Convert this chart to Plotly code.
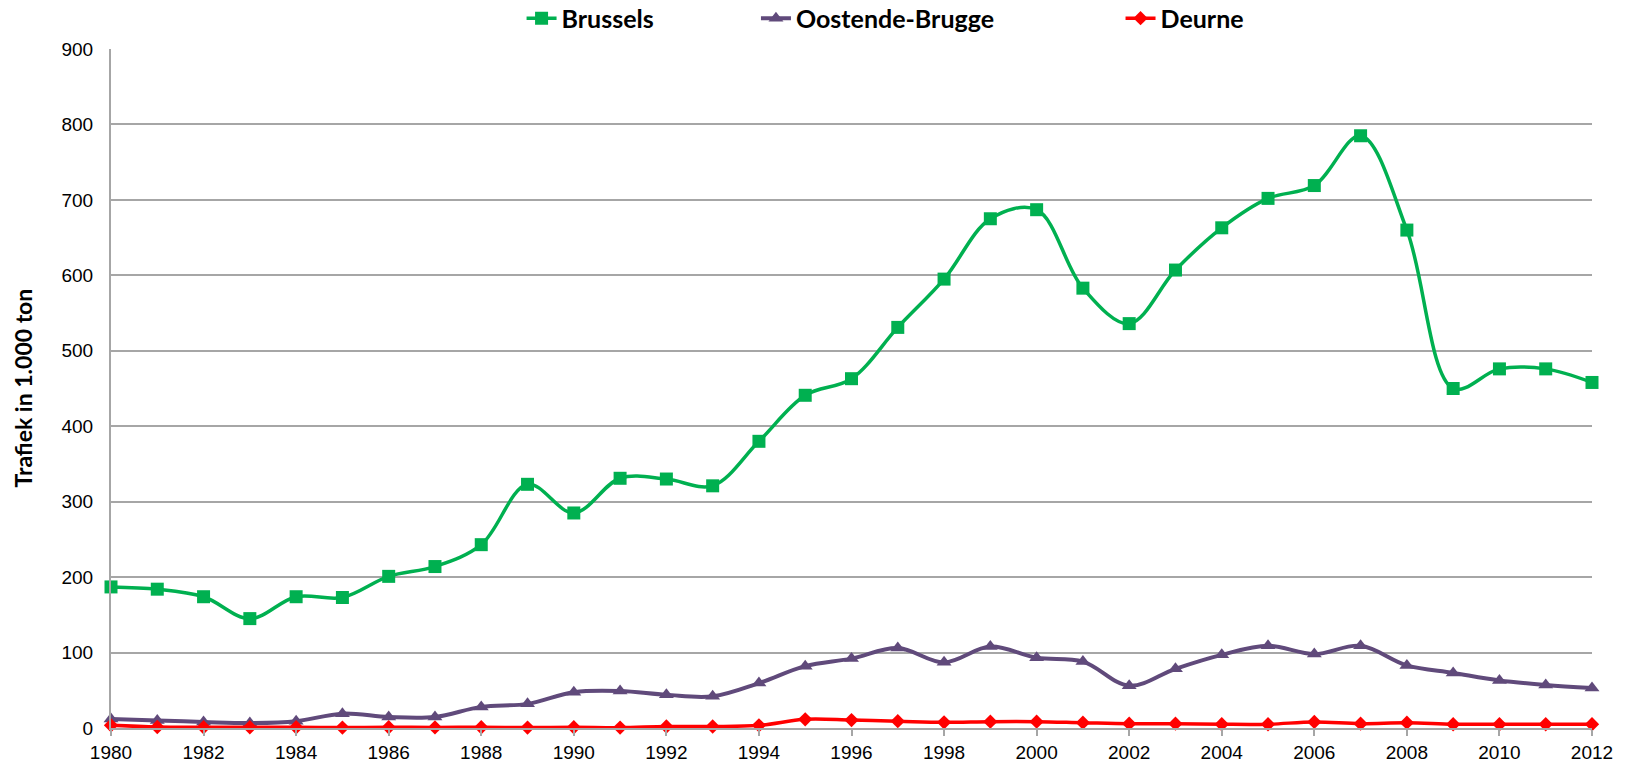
import plotly.graph_objects as go

years = list(range(1980, 2013))
brussels = [187, 184, 174, 145, 174, 173, 201, 214, 243, 323, 285, 331, 330, 321, 380, 441,
            463, 531, 595, 675, 687, 583, 536, 607, 663, 702, 719, 785, 660, 450, 476, 476, 458]
oostende = [12, 10, 8, 6.5, 9, 19, 14.5, 14.5, 28, 32, 47.5, 49, 44, 42, 59.5, 82,
            92, 106, 87, 108, 93, 88, 56, 78.5, 97, 109, 98, 109, 83, 73, 63, 57, 53]
deurne = [3.5, 1.3, 1, 1, 1, 0.5, 1, 0.8, 1, 0.5, 1, 0.5, 2, 2, 3.5, 11.5,
          10.5, 9, 7.5, 8.4, 8.4, 7, 5.7, 5.7, 5, 5, 8, 5.7, 7, 5, 5, 5, 5]
tick_years = list(range(1980, 2013, 2))
y_ticks = list(range(0, 901, 100))

NB = "\u00a0"
fig = go.Figure()
fig.add_trace(go.Scatter(x=years, y=brussels, name="Brussels" + NB * 16, mode="lines+markers",
                         line=dict(color="#00B050", width=3.5, shape="spline", smoothing=1),
                         marker=dict(symbol="square", size=13, color="#00B050"), cliponaxis=False))
fig.add_trace(go.Scatter(x=years, y=oostende, name="Oostende-Brugge" + NB * 20, mode="lines+markers",
                         line=dict(color="#604A7B", width=4, shape="spline", smoothing=1),
                         marker=dict(symbol="triangle-up", size=13, color="#604A7B"), cliponaxis=False))
fig.add_trace(go.Scatter(x=years, y=deurne, name="Deurne", mode="lines+markers",
                         line=dict(color="#FF0000", width=3.5, shape="spline", smoothing=1),
                         marker=dict(symbol="diamond", size=11, color="#FF0000"), cliponaxis=False))

tickfont = dict(family="Liberation Sans, Arial, sans-serif", size=19, color="#000000")
fig.update_layout(
    width=1631, height=764,
    margin=dict(l=111, r=39, t=49, b=36, autoexpand=False),
    paper_bgcolor="white", plot_bgcolor="white",
    showlegend=True,
    legend=dict(orientation="h", x=0.523, xanchor="center", y=1.045, yanchor="middle",
                font=dict(family="Lato, Liberation Sans, sans-serif", size=25, color="#000000", weight="bold"),
                bgcolor="rgba(0,0,0,0)"),
    xaxis=dict(range=[1980, 2012], tickvals=tick_years, ticktext=[str(t) for t in tick_years],
               tickfont=tickfont, showgrid=False, zeroline=False,
               showline=True, linecolor="#A6A6A6", linewidth=2,
               ticks="outside", ticklen=6, tickcolor="#A6A6A6", tickwidth=1.5),
    yaxis=dict(range=[0, 900], tickvals=y_ticks, tickfont=tickfont, ticklabelstandoff=12,
               showgrid=True, gridcolor="#A6A6A6", gridwidth=1.5, zeroline=False,
               showline=True, linecolor="#A6A6A6", linewidth=2, ticks=""),
    annotations=[dict(text="<b>Trafiek in 1.000 ton</b>", xref="paper", yref="paper",
                      x=0, xshift=-89, y=0.5, textangle=-90, showarrow=False,
                      xanchor="center", yanchor="middle",
                      font=dict(family="Lato, Liberation Sans, sans-serif", size=23, color="#000000"))],
)
fig.write_html("out.html", config={"displayModeBar": False},
               post_script="document.body.style.margin='0px';document.body.style.overflow='hidden';")
